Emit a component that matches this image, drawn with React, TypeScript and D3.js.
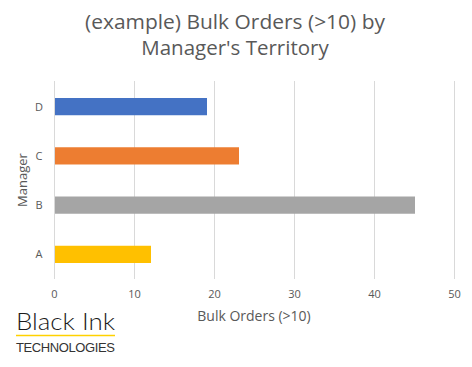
import React from "react";
import * as d3 from "d3";

const categories = ["A", "B", "C", "D"];
const values = [12, 45, 23, 19];
const colors = ["#FFC000", "#A5A5A5", "#ED7D31", "#4472C4"];
const xTicks = [0, 10, 20, 30, 40, 50];

const W = 472, H = 367;
const FONT = "'Open Sans', 'Liberation Sans', sans-serif";

export default function App() {
  const x = d3.scaleLinear().domain([0, 50]).range([54.5, 454.5]);
  const y = d3.scaleBand<string>().domain([...categories].reverse()).range([82, 279]).paddingInner(0.65).paddingOuter(0.325);
  return (
    <svg width={W} height={H} style={{ position: "absolute", left: 0, top: 0, background: "#fff" }} fontFamily={FONT}>
      <rect width={W} height={H} fill="#fff" />
      <text x={235} y={29} textAnchor="middle" fontSize={20.5} fill="#595959" textLength={300} lengthAdjust="spacingAndGlyphs">(example) Bulk Orders (&gt;10) by</text>
      <text x={235} y={55} textAnchor="middle" fontSize={20.5} fill="#595959">Manager's Territory</text>
      {xTicks.map((t) => (
        <g key={t}>
          <line x1={x(t)} x2={x(t)} y1={81} y2={279} stroke="#d9d9d9" strokeWidth={1} />
          <text x={x(t)} y={298} textAnchor="middle" fontSize={11} fill="#595959">{t}</text>
        </g>
      ))}
      {categories.map((c, i) => (
        <g key={c}>
          <rect x={x(0) + 0.5} y={y(c)} width={x(values[i]) - x(0)} height={y.bandwidth()} fill={colors[i]} />
          <text x={39} y={(y(c) as number) + y.bandwidth() / 2 + 4} textAnchor="middle" fontSize={11} fill="#595959">{c}</text>
        </g>
      ))}
      <text x={254} y={321} textAnchor="middle" fontSize={14} fill="#595959">Bulk Orders (&gt;10)</text>
      <text transform="translate(27,180) rotate(-90)" textAnchor="middle" fontSize={13} fill="#595959">Manager</text>
      <text x={16} y={330} fontSize={23} fill="#1a1a1a" fontWeight={300} fontFamily="Lato, 'Open Sans', sans-serif" textLength={99} lengthAdjust="spacingAndGlyphs">Black Ink</text>
      <line x1={16} x2={115} y1={335.5} y2={335.5} stroke="#FFD100" strokeWidth={1.5} />
      <text x={16} y={352} fontSize={13} fill="#333" fontFamily="'Liberation Sans', sans-serif" textLength={99}>TECHNOLOGIES</text>
    </svg>
  );
}
